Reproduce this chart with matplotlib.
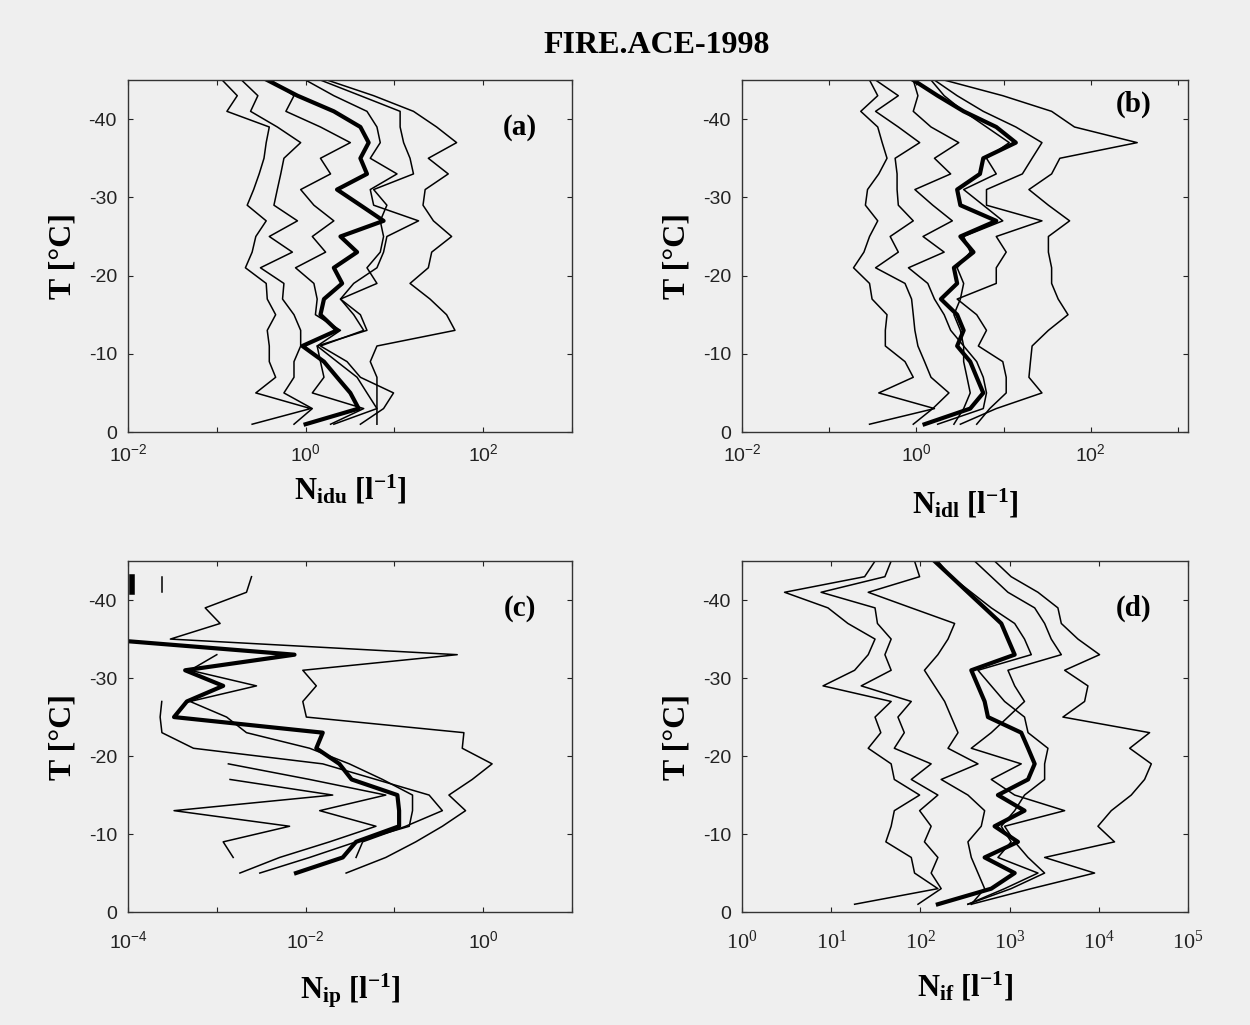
import numpy as np
import matplotlib
matplotlib.use("Agg")
import matplotlib.pyplot as plt
from matplotlib.ticker import FixedLocator, NullLocator, FuncFormatter

plt.rcParams['mathtext.fontset'] = 'custom'
plt.rcParams['mathtext.rm'] = 'Liberation Serif'
plt.rcParams['mathtext.bf'] = 'Liberation Serif:bold'
plt.rcParams['mathtext.it'] = 'Liberation Serif:italic'
plt.rcParams['font.family'] = ['Liberation Sans', 'DejaVu Sans']
plt.rcParams['axes.unicode_minus'] = False

# ---------------- data ----------------
T_full = [-1, -3, -5, -7, -9, -11, -13, -15, -17, -19, -21, -23,
          -25, -27, -29, -31, -33, -35, -37, -39, -41, -43, -45]

# panel (a)  N_idu [1/l]
a_thick = [1.0, 3.96, 3.19, 2.26, 1.61, 0.92, 2.26, 1.47, 1.61, 2.58, 2.08, 3.80,
           2.47, 7.55, 4.14, 2.26, 4.91, 4.14, 5.13, 4.14, 2.08, 0.81, 0.37]
a_l1 = [0.25, 1.14, 0.275, 0.46, 0.39, 0.39, 0.37, 0.46, 0.37, 0.36, 0.21, 0.25,
        0.275, 0.36, 0.22, 0.26, 0.30, 0.34, 0.36, 0.39, 0.13, 0.17, 0.115]
a_l2 = [0.74, 1.19, 0.57, 0.74, 0.74, 0.88, 0.88, 0.74, 0.55, 0.57, 0.31, 0.71,
        0.39, 0.81, 0.44, 0.48, 0.525, 0.57, 0.88, 0.48, 0.24, 0.29, 0.19]
a_l3 = [1.91, 4.51, 1.19, 1.61, 1.47, 1.35, 2.47, 1.29, 1.35, 1.24, 0.77, 1.68,
        1.19, 2.08, 1.24, 0.88, 1.91, 1.47, 3.19, 1.47, 0.60, 0.74, 0.405]
a_l4 = [6.36, 6.36, 4.91, 3.80, 2.26, 1.35, 4.91, 4.14, 2.47, 3.48, 6.36, 7.55,
        8.23, 18.7, 5.84, 5.35, 10.7, 5.35, 6.93, 6.36, 4.91, 2.08, 1.0]
a_l5 = [4.14, 7.55, 9.78, 4.14, 2.93, 1.47, 4.51, 3.48, 2.47, 6.36, 4.91, 6.93,
        7.55, 6.93, 8.23, 5.84, 16.4, 15.0, 12.7, 11.6, 11.6, 4.14, 1.47]
a_l6 = [2.08, 6.36, 6.36, 6.36, 5.35, 6.36, 48.1, 38.7, 25.2, 15.0, 24.1, 26.3,
        44.1, 27.5, 21.0, 22.2, 40.4, 24.1, 50.2, 29.9, 16.4, 5.84, 1.75]

# panel (b)  N_idl [1/l]
b_thick = [1.24, 4.14, 5.84, 4.91, 4.14, 2.93, 3.48, 2.93, 1.91, 2.93, 2.69, 4.51,
           3.19, 8.23, 3.19, 2.93, 5.35, 5.84, 13.8, 8.23, 3.48, 1.75, 0.92]
b_l1 = [0.29, 1.61, 0.37, 0.92, 0.74, 0.44, 0.44, 0.46, 0.31, 0.29, 0.19, 0.25,
        0.29, 0.36, 0.26, 0.275, 0.37, 0.46, 0.405, 0.36, 0.23, 0.36, 0.29]
b_l2 = [0.92, 1.54, 2.36, 1.47, 1.24, 1.04, 0.96, 0.92, 0.88, 0.74, 0.34, 0.62,
        0.50, 0.92, 0.62, 0.60, 0.60, 0.57, 1.09, 0.62, 0.34, 0.62, 0.34]
b_l3 = [2.69, 3.48, 4.14, 3.80, 3.48, 3.48, 2.47, 2.08, 1.61, 1.35, 0.81, 2.08,
        1.19, 2.58, 1.54, 0.96, 2.47, 1.61, 3.06, 1.47, 0.92, 1.04, 0.92]
b_l4 = [1.75, 5.84, 6.36, 5.84, 4.91, 3.48, 3.19, 2.69, 3.19, 3.48, 2.93, 4.14,
        3.48, 9.78, 5.84, 3.48, 8.23, 6.36, 11.6, 6.36, 3.48, 2.08, 1.47]
b_l5 = [4.91, 6.93, 10.7, 10.7, 9.78, 5.13, 6.36, 4.91, 2.93, 8.23, 8.23, 10.7,
        8.23, 27.5, 6.36, 6.36, 16.4, 21.2, 27.5, 13.8, 5.84, 2.93, 1.61]
b_l6 = [3.19, 8.23, 27.5, 19.5, 20.3, 21.2, 32.6, 54.7, 42.2, 35.5, 35.5, 32.6,
        32.6, 57.1, 32.6, 19.5, 35.5, 44.1, 340.0, 64.9, 35.5, 9.78, 2.08]

# panel (c)  N_ip [1/l]  (profiles cover partial temperature ranges)
c_thick_T = [-5, -7, -9, -11, -13, -15, -17, -19, -21, -23, -25, -27, -29, -31, -33, -35]
c_thick = [0.0078, 0.0262, 0.037, 0.113, 0.113, 0.108, 0.033, 0.024, 0.0132, 0.0156,
           0.00033, 0.00046, 0.00118, 0.00044, 0.0075, 0.00005]
c_l1_T = [-5, -7, -9, -11, -13, -15, -17, -19, -21, -23, -25, -27, -29, -31, -33,
          -35, -37, -39, -41, -43]
c_l1 = [0.0286, 0.080, 0.174, 0.347, 0.633, 0.411, 0.752, 1.26, 0.581, 0.606, 0.0102,
        0.0093, 0.0132, 0.0093, 0.51, 0.0003, 0.00109, 0.00074, 0.00216, 0.00246]
c_l2_T = [-7, -9, -11, -13, -15, -17]
c_l2 = [0.00153, 0.00118, 0.0066, 0.00033, 0.0202, 0.00141]
c_l3_T = [-5, -7, -9, -11, -13, -15, -17, -19]
c_l3 = [0.00182, 0.0051, 0.0186, 0.062, 0.0144, 0.080, 0.0111, 0.00135]
c_l4_T = [-5, -7, -9, -11, -13, -15, -17, -19, -21, -23, -25, -27, -29, -31, -33]
c_l4 = [0.00305, 0.0111, 0.037, 0.147, 0.160, 0.160, 0.0736, 0.0311, 0.0111, 0.00216,
        0.00129, 0.0005, 0.0028, 0.0005, 0.001]
c_l5_T = [-7, -9, -11, -13, -15, -17, -19, -21, -23, -25, -27]
c_l5 = [0.037, 0.0439, 0.134, 0.347, 0.246, 0.062, 0.0156, 0.000546, 0.000241,
        0.00023, 0.00024]
c_stub_T = [-41, -43]
c_stub_thick = [0.00011, 0.00011]
c_stub_thin = [0.00024, 0.00024]

# panel (d)  N_if [1/l]
d_thick = [157, 623, 1140, 525, 1240, 679, 1470, 740, 1610, 1910, 1610, 1350,
           572, 525, 442, 372, 1140, 958, 807, 525, 341, 222, 144]
d_l1 = [18.3, 157, 86, 79, 41, 47, 51, 98, 51, 47, 26, 36,
        31, 47, 8.1, 18.3, 26, 31, 15.4, 9.2, 3.0, 23.7, 31]
d_l2 = [94, 171, 132, 157, 111, 132, 98, 157, 79, 132, 51, 66,
        56, 79, 21.7, 47, 40, 47, 33, 31, 7.7, 40, 47]
d_l3 = [372, 525, 442, 372, 341, 481, 525, 341, 171, 442, 204, 264,
        222, 187, 144, 111, 157, 204, 242, 79, 26, 98, 86]
d_l4 = [341, 879, 2080, 740, 1040, 807, 1140, 1470, 2470, 2470, 2690, 1610,
        1470, 879, 623, 442, 1750, 1470, 1140, 623, 372, 222, 157]
d_l5 = [341, 1040, 2470, 1610, 1140, 879, 4140, 1140, 623, 1350, 372, 623,
        958, 1470, 1140, 958, 3800, 2930, 2470, 1910, 958, 623, 405]
d_l6 = [372, 1750, 8970, 2470, 15000, 9780, 13800, 23100, 32600, 38800, 22200, 37100,
        3960, 6930, 7550, 4140, 10200, 5840, 3800, 3480, 2080, 1040, 679]

title = "FIRE.ACE-1998"
y_ticks = [0, -10, -20, -30, -40]

# ---------------- figure ----------------
BG = '#efefef'
fig = plt.figure(figsize=(12.5, 10.25), dpi=100, facecolor=BG)

THIN = 1.1
THICK = 3.0
SERIF = 'Liberation Serif'


def setup(ax, xlim, decades, labeled, xlabel, letter, labelpad, letter_xy,
          xtick_family='Liberation Sans', xpad=8):
    ax.set_facecolor(BG)
    ax.set_xscale('log')
    ax.set_xlim(xlim)
    ax.set_ylim(0, -45)
    ax.xaxis.set_major_locator(FixedLocator([10.0 ** d for d in decades]))
    ax.xaxis.set_minor_locator(NullLocator())

    def fmt(v, pos):
        e = int(round(np.log10(v)))
        return r"$\mathdefault{10^{%d}}$" % e if e in labeled else ""
    ax.xaxis.set_major_formatter(FuncFormatter(fmt))
    ax.set_yticks(y_ticks)
    ax.set_yticklabels([str(t) for t in y_ticks])
    ax.tick_params(direction='in', top=True, right=True, length=3.5, width=0.8,
                   labelsize=14, pad=8, colors='#222222')
    ax.tick_params(axis='x', pad=xpad)
    for lab in ax.get_xticklabels():
        lab.set_fontfamily(xtick_family)
        if xtick_family == SERIF:
            lab.set_fontsize(16)
    for s in ax.spines.values():
        s.set_linewidth(1.0)
        s.set_color('#333333')
    ax.set_xlabel(xlabel, fontsize=22, fontfamily=SERIF, fontweight='bold',
                  labelpad=labelpad)
    ax.set_ylabel("T [°C]", fontsize=23, fontfamily=SERIF, fontweight='bold',
                  labelpad=8)
    ax.text(letter_xy[0], letter_xy[1], letter, transform=ax.transAxes, fontsize=21,
            fontfamily=SERIF, fontweight='bold', ha='center', va='center')


W = 0.3552
H = 0.3434
ax_a = fig.add_axes([0.1024, 0.5785, W, H])
ax_b = fig.add_axes([0.5936, 0.5785, 0.3568, H])
ax_c = fig.add_axes([0.1024, 0.1102, W, 0.3424])
ax_d = fig.add_axes([0.5936, 0.1102, 0.3568, 0.3424])

# (a)
for s in [a_l1, a_l2, a_l3, a_l4, a_l5, a_l6]:
    ax_a.plot(s, T_full, color='black', lw=THIN)
ax_a.plot(a_thick, T_full, color='black', lw=THICK)
setup(ax_a, (1e-2, 1e3), range(-2, 4), [-2, 0, 2],
      r"N$_{\mathbf{idu}}$ [l$^{\mathbf{-1}}$]", "(a)", 6, (0.883, 0.864))

# (b)
for s in [b_l1, b_l2, b_l3, b_l4, b_l5, b_l6]:
    ax_b.plot(s, T_full, color='black', lw=THIN)
ax_b.plot(b_thick, T_full, color='black', lw=THICK)
setup(ax_b, (1e-2, 1.3e3), range(-2, 4), [-2, 0, 2],
      r"N$_{\mathbf{idl}}$ [l$^{\mathbf{-1}}$]", "(b)", 16, (0.877, 0.93))

# (c)
for tt, s in [(c_l1_T, c_l1), (c_l2_T, c_l2), (c_l3_T, c_l3),
              (c_l4_T, c_l4), (c_l5_T, c_l5), (c_stub_T, c_stub_thin)]:
    ax_c.plot(s, tt, color='black', lw=THIN)
ax_c.plot(c_thick, c_thick_T, color='black', lw=THICK)
ax_c.plot(c_stub_thick, c_stub_T, color='black', lw=4)
setup(ax_c, (1e-4, 1e1), range(-4, 2), [-4, -2, 0],
      r"N$_{\mathbf{ip}}$ [l$^{\mathbf{-1}}$]", "(c)", 14, (0.883, 0.866), xpad=13)

# (d)
for s in [d_l1, d_l2, d_l3, d_l4, d_l5, d_l6]:
    ax_d.plot(s, T_full, color='black', lw=THIN)
ax_d.plot(d_thick, T_full, color='black', lw=THICK)
setup(ax_d, (1e0, 1e5), range(0, 6), [0, 1, 2, 3, 4, 5],
      r"N$_{\mathbf{if}}$ [l$^{\mathbf{-1}}$]", "(d)", 12, (0.877, 0.866),
      xtick_family=SERIF, xpad=13)

fig.text(0.525, 0.956, title, fontsize=23, fontfamily=SERIF, fontweight='bold',
         ha='center', va='center')

fig.savefig("out.png", dpi=100, facecolor=BG)
